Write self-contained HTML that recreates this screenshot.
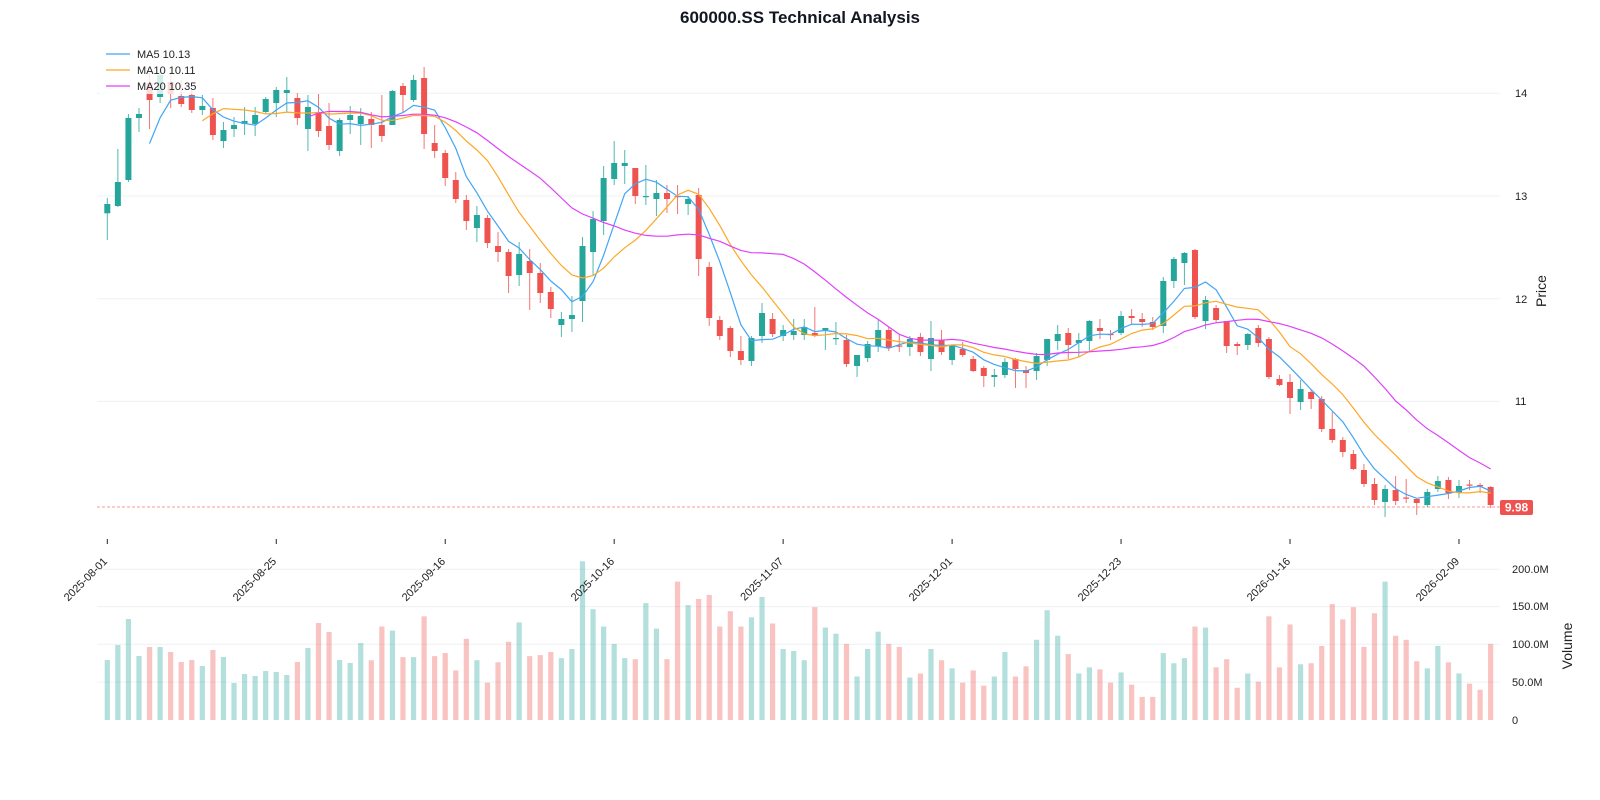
<!DOCTYPE html>
<html><head><meta charset="utf-8"><style>
html,body{margin:0;padding:0;background:#fff;}
body{width:1600px;height:800px;position:relative;overflow:hidden;font-family:"Liberation Sans",sans-serif;}
svg{position:absolute;left:0;top:0;}
text{font-family:"Liberation Sans",sans-serif;}
</style></head><body>
<svg id="s" width="1600" height="800" xmlns="http://www.w3.org/2000/svg">
<g id="grid" stroke="#eef0f5" stroke-width="1">
<line x1="97" x2="1500" y1="93.3" y2="93.3"/><line x1="97" x2="1500" y1="196" y2="196"/>
<line x1="97" x2="1500" y1="298.7" y2="298.7"/><line x1="97" x2="1500" y1="401.4" y2="401.4"/>
<line x1="97" x2="1500" y1="569.3" y2="569.3"/><line x1="97" x2="1500" y1="606.6" y2="606.6"/>
<line x1="97" x2="1500" y1="644.3" y2="644.3"/><line x1="97" x2="1500" y1="682.1" y2="682.1"/>
</g>
<line x1="97" x2="1500" y1="507" y2="507" stroke="#ef5350" stroke-opacity="0.6" stroke-dasharray="3,2" stroke-width="1"/>
<g id="vol"></g>
<g id="cand"></g>
<g id="ma" fill="none" stroke-width="1.2"></g>
<g id="ticks" stroke="#222" stroke-width="1"></g>
<rect x="100" y="44" width="110" height="50" fill="#fff" fill-opacity="0.8"/>
<line x1="106" x2="130" y1="54" y2="54" stroke="#42a5f5" stroke-width="1.3"/>
<line x1="106" x2="130" y1="70" y2="70" stroke="#ffa726" stroke-width="1.3"/>
<line x1="106" x2="130" y1="86" y2="86" stroke="#e040fb" stroke-width="1.3"/>
<g font-size="11" fill="#222">
<text x="137" y="58">MA5 10.13</text>
<text x="137" y="74">MA10 10.11</text>
<text x="137" y="90">MA20 10.35</text>
</g>
<text x="800" y="23" text-anchor="middle" font-size="17" font-weight="bold" fill="#131722">600000.SS Technical Analysis</text>
<g font-size="11" fill="#222">
<text x="1515" y="97">14</text><text x="1515" y="200">13</text><text x="1515" y="303">12</text><text x="1515" y="405">11</text>
<text x="1512" y="573">200.0M</text><text x="1512" y="610">150.0M</text><text x="1512" y="648">100.0M</text><text x="1512" y="686">50.0M</text><text x="1512" y="724">0</text>
</g>
<rect x="1500" y="500" width="33" height="15" rx="2" fill="#ef5350"/>
<text x="1516.5" y="511.5" text-anchor="middle" font-size="12" font-weight="bold" fill="#fff">9.98</text>
<text transform="translate(1546,291) rotate(-90)" text-anchor="middle" font-size="14" fill="#222">Price</text>
<text transform="translate(1572,646) rotate(-90)" text-anchor="middle" font-size="14" fill="#222">Volume</text>
<g font-size="11" fill="#222" text-anchor="end">
<text transform="translate(108,562) rotate(-45)">2025-08-01</text>
<text transform="translate(277,562) rotate(-45)">2025-08-25</text>
<text transform="translate(446,562) rotate(-45)">2025-09-16</text>
<text transform="translate(615,562) rotate(-45)">2025-10-16</text>
<text transform="translate(784,562) rotate(-45)">2025-11-07</text>
<text transform="translate(953,562) rotate(-45)">2025-12-01</text>
<text transform="translate(1122,562) rotate(-45)">2025-12-23</text>
<text transform="translate(1291,562) rotate(-45)">2026-01-16</text>
<text transform="translate(1460,562) rotate(-45)">2026-02-09</text>
</g>
</svg>
<script>
var D=[[204,213.3,'g',198,240],[182,206,'g',149,207],[118,180,'g',114,182],[114,118,'g',108,132],[83,100,'r',73,129],[75,97,'g',70,103],[82,94,'r',72,108],[96,104,'r',80,107],[95,110,'r',90,113],[106,110,'g',95,115],
[108,135,'r',98,140],[130,141,'g',122,148],[125,129,'g',117,137],[121,124,'g',107,135],[115,124,'g',107,136],[99,112,'g',97,113],[90,103,'g',87,117],[90,93,'g',77,112],[98,118,'r',93,125],[107,129,'g',95,151],
[112,131,'r',94,137],[126,145,'r',103,150],[120,151,'g',118,156],[115,120,'g',106,134],[116,124,'g',108,145],[119,125,'r',112,148],[125,136,'r',95,142],[91,125,'g',90,125],[86,95,'r',83,112],[80,100,'g',75,102],
[78,134,'r',67,149],[143,151,'r',125,158],[153,178,'r',150,186],[180,199,'r',172,203],[200,221,'r',195,230],[215,228,'g',206,242],[218,243,'r',215,248],[246,252,'r',232,262],[252,276,'r',249,293],[254,275,'g',242,286],
[261,273,'r',249,310],[273,293,'r',263,303],[292,309,'r',287,318],[319,325,'g',312,337],[315,319,'g',296,332],[246,301,'g',237,322],[219,252,'g',211,275],[178,221,'g',166,235],[163,179,'g',141,185],[163,166,'g',150,184],
[168,196,'r',168,204],[196,197,'g',165,205],[193,199,'g',180,216],[193,199,'r',185,213],[196,197,'r',185,214],[199,204,'g',196,215],[195,259,'r',188,276],[267,318,'r',262,326],[320,336,'r',316,340],[328,351,'r',326,357],
[351,360,'r',336,365],[338,361,'g',336,366],[313,336,'g',303,343],[319,334,'r',313,337],[330,336,'g',325,341],[331,335,'g',319,340],[327,335,'g',319,340],[333,336,'r',307,337],[328,330,'g',328,350],[338,339,'g',322,345],
[340,364,'r',335,367],[355,366,'g',355,377],[344,358,'g',341,362],[330,346,'g',320,352],[330,348,'r',327,351],[345.5,346.5,'r',335,352],[339,347,'g',336,356],[337,352,'r',333,356],[338,359,'g',321,371],[340,352,'r',330,355],
[345,360,'g',345,365],[349,355,'r',342,357],[359,371,'r',356,372],[368,376,'r',366,387],[375,377,'g',369,387],[362,375,'g',358,378],[359,369,'r',358,388],[370,373,'r',366,388],[356,371,'g',353,380],[339,360,'g',339,366],
[334,341,'g',325,350],[333,345,'r',328,359],[340,343,'g',333,357],[321,341,'g',320,352],[328,331,'r',319,339],[334,335,'r',330,340],[316,333,'g',311,335],[316,318,'r',309,325],[319,322,'r',313,327],[322,327,'r',317,330],
[281,326,'g',277,333],[259,281,'g',257,288],[253,263,'g',252,285],[250,317,'r',249,319],[300,321,'g',296,329],[308,320,'r',305,323],[321,346,'r',321,353],[344,346,'r',342,355],[334,345,'g',333,350],[328,343,'r',325,347],
[339,377,'r',337,379],[379,385,'r',375,386],[382,398,'r',374,414],[389,402,'g',380,410],[392,399,'r',390,409],[399,429,'r',396,432],[429,440,'r',412,443],[440,452,'r',437,457],[454,469,'r',450,470],[470,484,'r',464,487],
[484,500,'r',478,505],[489,502,'g',485,517],[490,501,'r',476,505],[497.5,498.5,'r',479,503],[499,503,'r',499,515],[492,505,'g',489,507],[481,489,'g',476,492],[480,493,'r',477,499],[486,493,'g',480,498],[484.5,485.5,'r',480,490],
[485,486,'r',483,493],[487,505,'r',486,508]];
var V0=[660,645,619,656,647,647,652,662,660,666,650,657,683,674,676,671,672,675,662,648,623,632,660,663,643];
var VP=[647,631,607,643,634,634,639,649,647,653,637,644,669,660,662,657,658,661,649,635,611,619,647,650,630,647,614,618,644,644,604,643,640,657,626,647,669,649,629,610,643,642,639,645,636,550,597,614,631,645,646,591,616,646,570,593,587,583,614,599,614,605,585,611,636,638,647,595,615,621,631,663,636,619,631,634,664,660,636,647,655,669,657,672,663,639,663,653,627,598,623,641,660,654,656,669,659,671,683,683,640,650,645,614,615,654,646,674,660,668,604,654,612,651,650,633,592,607,595,634,601,570,623,627,648,655,633,649,660,670,676,631];
var NS='http://www.w3.org/2000/svg';
function el(p,t,a){var e=document.createElementNS(NS,t);for(var k in a)e.setAttribute(k,a[k]);p.appendChild(e);return e;}
var gv=document.getElementById('vol'),gc=document.getElementById('cand'),gm=document.getElementById('ma'),gt=document.getElementById('ticks');
var X=function(i){return 107.3+i*10.56;};
var closes=[];
D.forEach(function(d,i){
 var x=X(i),col=d[2]=='g'?'#26a69a':'#ef5350';
 closes.push(d[2]=='g'?d[0]:d[1]);
 var vt=i<V0.length?V0[i]:VP[i]*1.0204;
 el(gv,'rect',{x:x-2.6,y:vt,width:5.2,height:720-vt,fill:col,'fill-opacity':0.35});
 el(gc,'line',{x1:x,x2:x,y1:d[3],y2:d[4],stroke:col,'stroke-width':1,'stroke-opacity':0.8});
 var h=Math.max(d[1]-d[0],1.2);
 el(gc,'rect',{x:x-3,y:d[0],width:6,height:h,fill:col});
});
[[5,'#42a5f5'],[10,'#ffa726'],[20,'#e040fb']].forEach(function(m){
 var pts=[];for(var i=m[0]-1;i<closes.length;i++){var s=0;for(var j=i-m[0]+1;j<=i;j++)s+=closes[j];pts.push(X(i).toFixed(1)+','+(s/m[0]).toFixed(1));}
 el(gm,'polyline',{points:pts.join(' '),stroke:m[1]});
});
for(var k=0;k<=128;k+=16){el(gt,'line',{x1:X(k),x2:X(k),y1:539,y2:544});}
</script>
</body></html>
